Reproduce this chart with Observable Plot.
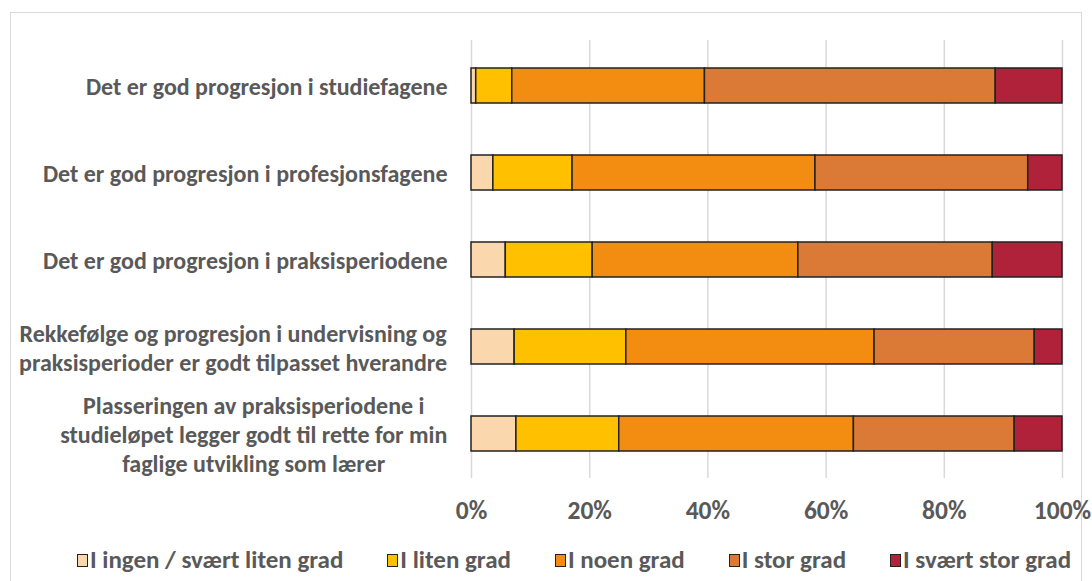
<!DOCTYPE html>
<html>
<head>
<meta charset="utf-8">
<script src="https://cdn.jsdelivr.net/npm/d3@7"></script>
<script src="https://cdn.jsdelivr.net/npm/@observablehq/plot@0.6"></script>
<style>
  html, body { margin: 0; padding: 0; background: #fff; }
  body { width: 1092px; height: 581px; position: relative; overflow: hidden;
         font-family: Carlito, "Liberation Sans Narrow", "DejaVu Sans Condensed", sans-serif; }
  #frame { position: absolute; left: 10px; top: 12px; width: 1072px; height: 600px;
           border: 1px solid #d9d9d9; box-sizing: border-box; }
  #chart { position: absolute; left: 0; top: 0; }
  #legend { position: absolute; left: 28px; top: 545px; width: 1092px; display: flex;
            justify-content: center; font-weight: bold; font-size: 25px; color: #595959; line-height: 30px; }
  .item { display: flex; align-items: center; gap: 2px; margin: 0 22px; }
  .sw { width: 11px; height: 13px; border: 1.5px solid #222; box-sizing: border-box; }
</style>
</head>
<body>
<div id="frame"></div>
<div id="chart"></div>
<div id="legend"></div>
<script>
const questions = [
  "Det er god progresjon i studiefagene",
  "Det er god progresjon i profesjonsfagene",
  "Det er god progresjon i praksisperiodene",
  "Rekkefølge og progresjon i undervisning og\npraksisperioder er godt tilpasset hverandre",
  "Plasseringen av praksisperiodene i\nstudieløpet legger godt til rette for min\nfaglige utvikling som lærer"
];
const categories = ["I ingen / svært liten grad", "I liten grad", "I noen grad", "I stor grad", "I svært stor grad"];
const colors = ["#FAD7AC", "#FFC000", "#F38D12", "#DA7A36", "#B0223A"];
// percent per question, in category order
const ingen    = [0.8, 3.7, 5.8, 7.3, 7.6];
const liten    = [6.1, 13.4, 14.7, 18.9, 17.4];
const noen     = [32.6, 41.1, 34.8, 42.0, 39.7];
const stor     = [49.2, 36.0, 32.9, 27.1, 27.2];
const svaertStor = [11.3, 5.8, 11.8, 4.7, 8.1];
const xTicks = [0, 0.2, 0.4, 0.6, 0.8, 1];

const series = [ingen, liten, noen, stor, svaertStor];
const data = [];
questions.forEach((q, i) => {
  categories.forEach((c, j) => data.push({question: q, category: c, value: series[j][i]}));
});

const font = 'Carlito, "Liberation Sans Narrow", "DejaVu Sans Condensed", sans-serif';
const chart = Plot.plot({
  width: 1092,
  height: 530,
  marginLeft: 471,
  marginRight: 30,
  marginTop: 40,
  marginBottom: 52,
  style: {fontFamily: font, fontSize: "24px", fontWeight: "bold", color: "#595959", background: "transparent"},
  x: {domain: [0, 1], ticks: xTicks, tickFormat: d3.format(".0%")},
  y: {domain: questions, paddingInner: 0.6, paddingOuter: 0.3, axis: null},
  color: {domain: categories, range: colors},
  marks: [
    Plot.gridX(xTicks, {stroke: "#d9d9d9", strokeOpacity: 1, strokeWidth: 1.5}),
    Plot.axisX({ticks: xTicks, tickSize: 0, tickPadding: 22, tickFormat: d3.format(".0%"), fill: "#595959",
      label: null, fontSize: 25.5}),
    Plot.barX(data, Plot.stackX({x: "value", y: "question", fill: "category", offset: "normalize", order: null,
      stroke: "#222", strokeWidth: 1.5, inset: 0})),
    Plot.text(questions, {y: d => d, text: d => d, frameAnchor: "left", dx: -24, textAnchor: "end",
      lineHeight: 1.2, fill: "#595959", fontWeight: "bold", fontSize: 24})
  ]
});
document.getElementById("chart").appendChild(chart);

// center lines of multi-line labels within their (right-aligned) block, like the original
chart.querySelectorAll("text").forEach(t => {
  const spans = t.querySelectorAll("tspan");
  if (spans.length > 1) {
    const w = t.getBBox().width;
    t.setAttribute("text-anchor", "middle");
    spans.forEach(s => s.setAttribute("x", (parseFloat(s.getAttribute("x")) || 0) - w / 2));
  }
});

const legend = document.getElementById("legend");
categories.forEach((c, i) => {
  const item = document.createElement("div");
  item.className = "item";
  const sw = document.createElement("div");
  sw.className = "sw";
  sw.style.background = colors[i];
  const lab = document.createElement("span");
  lab.textContent = c;
  item.appendChild(sw); item.appendChild(lab);
  legend.appendChild(item);
});
</script>
</body>
</html>
